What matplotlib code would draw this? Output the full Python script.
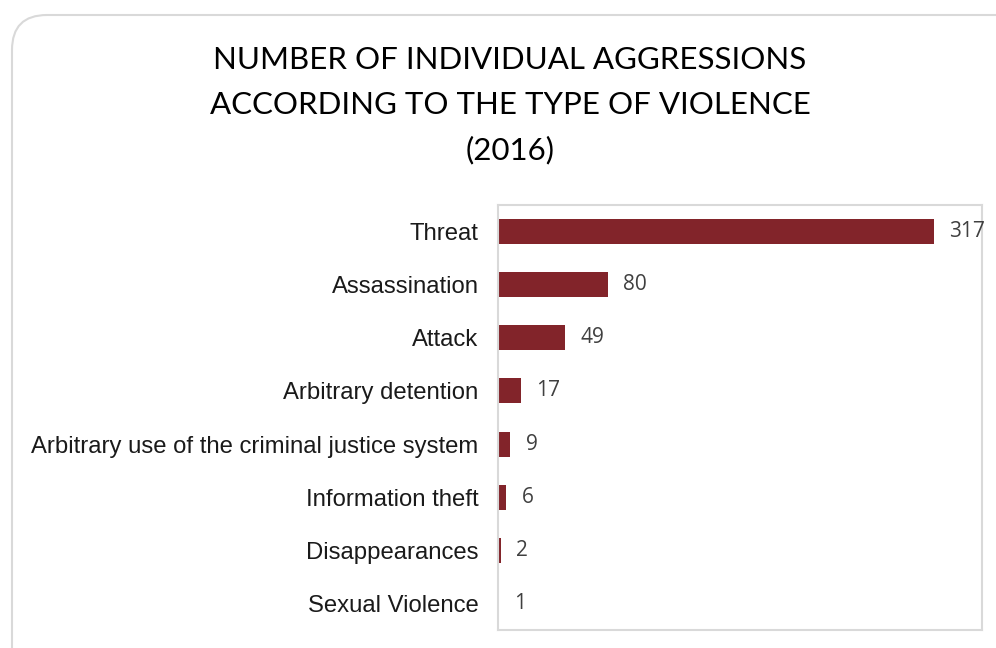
import matplotlib
matplotlib.use("Agg")
import matplotlib.pyplot as plt
from matplotlib.patches import FancyBboxPatch

categories = ["Threat", "Assassination", "Attack", "Arbitrary detention",
              "Arbitrary use of the criminal justice system", "Information theft",
              "Disappearances", "Sexual Violence"]
values = [317, 80, 49, 17, 9, 6, 2, 1]
title = "NUMBER OF INDIVIDUAL AGGRESSIONS\nACCORDING TO THE TYPE OF VIOLENCE\n(2016)"

W, H = 996, 648
fig = plt.figure(figsize=(W / 100, H / 100), dpi=100)
fig.patch.set_facecolor("white")

# outer rounded frame (in inches)
frame = FancyBboxPatch((0.12, -1.0), 11.0, (H - 15) / 100 + 1.0,
                       boxstyle="round,pad=0,rounding_size=0.35",
                       transform=fig.dpi_scale_trans, facecolor="none",
                       edgecolor="#d9d9d9", linewidth=1.5)
fig.patches.append(frame)

ax = fig.add_axes([498 / W, 1 - 630 / H, (982 - 498) / W, (630 - 205) / H])
y = list(range(len(categories)))
ax.barh(y, values, height=0.47, color="#82242a", edgecolor="none", left=0)
ax.set_xlim(0, 352)
ax.set_ylim(len(categories) - 0.5, -0.5)
ax.set_yticks(y)
ax.set_yticklabels(categories, fontsize=17.2, color="#1a1a1a", family="Liberation Sans")
ax.set_xticks([])
ax.tick_params(axis="y", length=0, pad=14)
for s in ax.spines.values():
    s.set_color("#d9d9d9")
    s.set_linewidth(1.5)

for yi, v in zip(y, values):
    ax.text(v + 11, yi, str(v), va="center", ha="left", fontsize=15,
            color="#404040", family="Open Sans")

fig.text(0.512, 1 - 46 / H, title, ha="center", va="top", fontsize=22.5,
         family="Lato", linespacing=1.72, color="black")

fig.savefig("out.png", dpi=100)
